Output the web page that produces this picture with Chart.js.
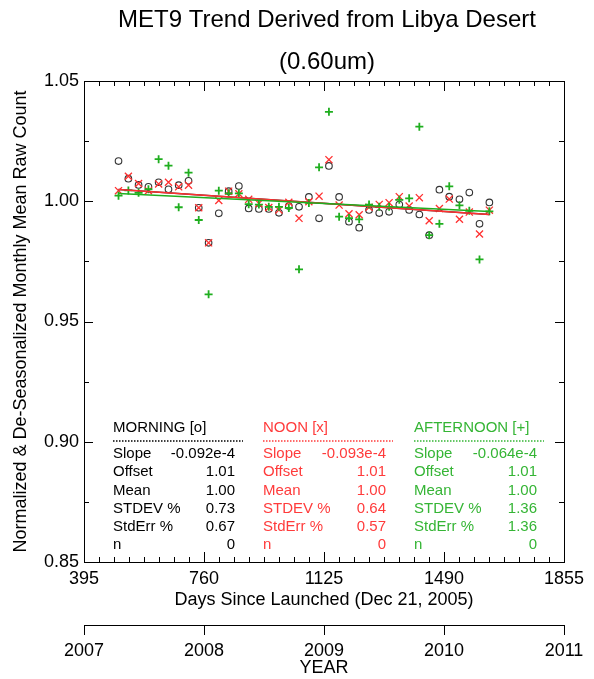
<!DOCTYPE html>
<html lang="en">
<head>
<meta charset="UTF-8">
<title>MET9 Trend Derived from Libya Desert</title>
<script src="https://cdn.jsdelivr.net/npm/chart.js"></script>
<style>
    body { margin: 0; background: #fff; }
    .grafico { width: 594px; height: 679px; position: relative; }
</style>
</head>
<body>
<div class="grafico"><canvas id="trendChart"></canvas></div>
<script>
    // days since launch, one point per month
    const days = [500, 530, 561, 591, 622, 652, 683, 713, 744, 774,
        805, 835, 866, 896, 927, 957, 988, 1018, 1049, 1079,
        1110, 1140, 1171, 1201, 1232, 1262, 1293, 1323, 1354, 1384,
        1415, 1445, 1476, 1506, 1537, 1567, 1598, 1628];

    const morning = [1.0167, 1.0094, 1.0068, 1.0060, 1.0079, 1.0050, 1.0067, 1.0085, 0.9973, 0.9827,
        0.9950, 1.0042, 1.0063, 0.9970, 0.9968, 0.9968, 0.9952, 0.9980, 0.9977, 1.0018,
        0.9929, 1.0147, 1.0018, 0.9915, 0.9890, 0.9964, 0.9951, 0.9956, 0.9986, 0.9964,
        0.9945, 0.9859, 1.0048, 1.0019, 1.0008, 1.0036, 0.9906, 0.9995];

    const noon = [1.0044, 1.0104, 1.0074, 1.0044, 1.0072, 1.0079, 1.0060, 1.0067, 0.9973, 0.9827,
        1.0003, 1.0042, 1.0031, 1.0008, 0.9991, 0.9974, 0.9964, 0.9996, 0.9929, 0.9998,
        1.0021, 1.0173, 0.9984, 0.9948, 0.9944, 0.9975, 0.9987, 0.9994, 1.0019, 0.9980,
        1.0015, 0.9919, 0.9970, 1.0009, 0.9925, 0.9955, 0.9864, 0.9963];

    const afternoon = [1.0023, 1.0045, 1.0035, 1.0050, 1.0175, 1.0148, 0.9975, 1.0119, 0.9922, 0.9613,
        1.0044, 1.0033, 1.0033, 0.9988, 0.9986, 0.9977, 0.9977, 0.9972, 0.9717, 0.9993,
        1.0141, 1.0372, 0.9936, 0.9930, 0.9925, 0.9986, 0.9977, 0.9977, 1.0006, 1.0012,
        1.0310, 0.9859, 0.9906, 1.0062, 0.9983, 0.9960, 0.9758, 0.9958];

    // fitted trend lines, read at the first and last day
    const trendDays = [500, 1628];
    const morningTrend = [1.0049, 0.9945];
    const noonTrend = [1.0049, 0.9945];
    const afternoonTrend = [1.0032, 0.9957];

    const dayTicks = [395, 760, 1125, 1490, 1855];
    const yearTicks = [2007, 2008, 2009, 2010, 2011];
    const valueTicks = [0.85, 0.90, 0.95, 1.00, 1.05];

    const statNames = ['Slope', 'Offset', 'Mean', 'STDEV %', 'StdErr %', 'n'];
    const morningStats = ['-0.092e-4', '1.01', '1.00', '0.73', '0.67', '0'];
    const noonStats = ['-0.093e-4', '1.01', '1.00', '0.64', '0.57', '0'];
    const afternoonStats = ['-0.064e-4', '1.01', '1.00', '1.36', '1.36', '0'];

    const FONTE = '"Liberation Sans", Arial, Helvetica, sans-serif';
    const PRETO = '#333333';
    const VERMELHO = '#ff3030';
    const VERDE = '#1fae1f';

    function pontos(valores) {
        return days.map((d, i) => ({ x: d, y: valores[i] }));
    }

    function reta(valores) {
        return trendDays.map((d, i) => ({ x: d, y: valores[i] }));
    }

    // ticks pointing into the plot on all four sides
    const ticksInternos = {
        id: 'ticksInternos',
        afterDraw(chart) {
            const { ctx, chartArea: a, scales: { x, y } } = chart;
            ctx.save();
            ctx.strokeStyle = '#000';
            ctx.lineWidth = 1;
            ctx.beginPath();
            for (let i = 0; i <= 32; i++) {
                const px = Math.round(x.getPixelForValue(dayTicks[0] + i * 365 / 8)) + 0.5;
                const len = i % 8 === 0 ? 10 : 5;
                ctx.moveTo(px, a.bottom);
                ctx.lineTo(px, a.bottom - len);
                ctx.moveTo(px, a.top);
                ctx.lineTo(px, a.top + len);
            }
            for (let i = 0; i <= 8; i++) {
                const py = Math.round(y.getPixelForValue(valueTicks[0] + i * 0.025)) + 0.5;
                const len = i % 2 === 0 ? 9 : 5;
                ctx.moveTo(a.left, py);
                ctx.lineTo(a.left + len, py);
                ctx.moveTo(a.right, py);
                ctx.lineTo(a.right - len, py);
            }
            ctx.stroke();
            ctx.restore();
        }
    };

    // main title and the statistics block
    const textos = {
        id: 'textos',
        afterDraw(chart) {
            const { ctx } = chart;
            ctx.save();
            ctx.fillStyle = '#000';
            ctx.textAlign = 'center';
            ctx.textBaseline = 'middle';
            ctx.font = '24px ' + FONTE;
            ctx.fillText('MET9 Trend Derived from Libya Desert', 327, 20);
            ctx.fillText('(0.60um)', 327, 62);

            const grupos = [
                { nome: 'MORNING [o]', cor: '#000000', stats: morningStats, x: 113, dir: 235, fim: 243 },
                { nome: 'NOON [x]', cor: '#ff3b3b', stats: noonStats, x: 263, dir: 386, fim: 393 },
                { nome: 'AFTERNOON [+]', cor: '#35b535', stats: afternoonStats, x: 414, dir: 537, fim: 544 }
            ];
            ctx.font = '15px ' + FONTE;
            grupos.forEach(g => {
                ctx.fillStyle = g.cor;
                ctx.strokeStyle = g.cor;
                ctx.textAlign = 'left';
                ctx.fillText(g.nome, g.x, 428);
                ctx.lineWidth = 1.5;
                ctx.setLineDash([1.5, 1.5]);
                ctx.beginPath();
                ctx.moveTo(g.x, 441);
                ctx.lineTo(g.fim, 441);
                ctx.stroke();
                ctx.setLineDash([]);
                statNames.forEach((s, i) => {
                    const yy = 454 + i * 18.2;
                    ctx.textAlign = 'left';
                    ctx.fillText(s, g.x, yy);
                    ctx.textAlign = 'right';
                    ctx.fillText(g.stats[i], g.dir, yy);
                });
            });
            ctx.restore();
        }
    };

    Chart.defaults.font.family = FONTE;
    Chart.defaults.color = '#000';

    const semGrade = { display: false, drawTicks: false };
    const borda = { display: true, color: '#000', width: 1 };

    const ctx = document.getElementById('trendChart');
    const trendChart = new Chart(ctx, {
        type: 'scatter',
        data: {
            datasets: [
                {
                    type: 'line', label: 'Afternoon trend', data: reta(afternoonTrend),
                    borderColor: VERDE, borderWidth: 1.5, pointRadius: 0, fill: false, order: 1
                },
                {
                    type: 'line', label: 'Noon trend', data: reta(noonTrend),
                    borderColor: VERMELHO, borderWidth: 1.5, pointRadius: 0, fill: false, order: 2
                },
                {
                    type: 'line', label: 'Morning trend', data: reta(morningTrend),
                    borderColor: PRETO, borderWidth: 1.5, pointRadius: 0, fill: false, order: 3
                },
                {
                    label: 'Afternoon', data: pontos(afternoon), pointStyle: 'cross',
                    pointRadius: 4, borderColor: VERDE, borderWidth: 1.8, order: 4
                },
                {
                    label: 'Noon', data: pontos(noon), pointStyle: 'crossRot',
                    pointRadius: 5, borderColor: VERMELHO, borderWidth: 1.3, order: 5
                },
                {
                    label: 'Morning', data: pontos(morning), pointStyle: 'circle',
                    pointRadius: 3.3, borderColor: PRETO, backgroundColor: 'transparent',
                    borderWidth: 1.1, order: 6
                }
            ]
        },
        options: {
            responsive: true,
            maintainAspectRatio: false,
            animation: false,
            events: [],
            layout: { padding: 0 },
            plugins: {
                legend: { display: false },
                tooltip: { enabled: false }
            },
            scales: {
                x: {
                    type: 'linear', position: 'bottom', weight: 0,
                    min: 395, max: 1855,
                    afterBuildTicks: s => { s.ticks = dayTicks.map(v => ({ value: v })); },
                    afterFit: s => { s.height = 63; },
                    grid: semGrade, border: borda,
                    ticks: { font: { size: 18 }, padding: 6, maxRotation: 0, autoSkip: false, callback: v => String(v) },
                    title: {
                        display: true, text: 'Days Since Launched (Dec 21, 2005)',
                        font: { size: 18 }, padding: { top: 0, bottom: 14 }
                    }
                },
                year: {
                    type: 'linear', position: 'bottom', weight: 1,
                    min: 2007, max: 2011,
                    afterBuildTicks: s => { s.ticks = yearTicks.map(v => ({ value: v })); },
                    afterFit: s => { s.height = 54; },
                    grid: { display: true, drawOnChartArea: false, drawTicks: true, tickLength: 10, color: '#000' },
                    border: borda,
                    ticks: { font: { size: 18 }, padding: 5, maxRotation: 0, autoSkip: false, callback: v => String(v) },
                    title: { display: true, text: 'YEAR', font: { size: 18 }, padding: { top: 0, bottom: 0 } }
                },
                x2: {
                    type: 'linear', position: 'top',
                    min: 395, max: 1855,
                    afterFit: s => { s.height = 81; },
                    grid: semGrade, border: borda,
                    ticks: { display: false }
                },
                y: {
                    type: 'linear', position: 'left',
                    min: 0.85, max: 1.05,
                    afterBuildTicks: s => { s.ticks = valueTicks.map(v => ({ value: v })); },
                    afterFit: s => { s.width = 84; },
                    grid: semGrade, border: borda,
                    ticks: { font: { size: 18 }, padding: 5, callback: v => v.toFixed(2) },
                    title: {
                        display: true, text: 'Normalized & De-Seasonalized Monthly Mean Raw Count',
                        font: { size: 18 }, padding: { top: 10, bottom: 0 }
                    }
                },
                y2: {
                    type: 'linear', position: 'right',
                    min: 0.85, max: 1.05,
                    afterFit: s => { s.width = 30; },
                    grid: semGrade, border: borda,
                    ticks: { display: false }
                }
            }
        },
        plugins: [ticksInternos, textos]
    });
</script>
</body>
</html>
